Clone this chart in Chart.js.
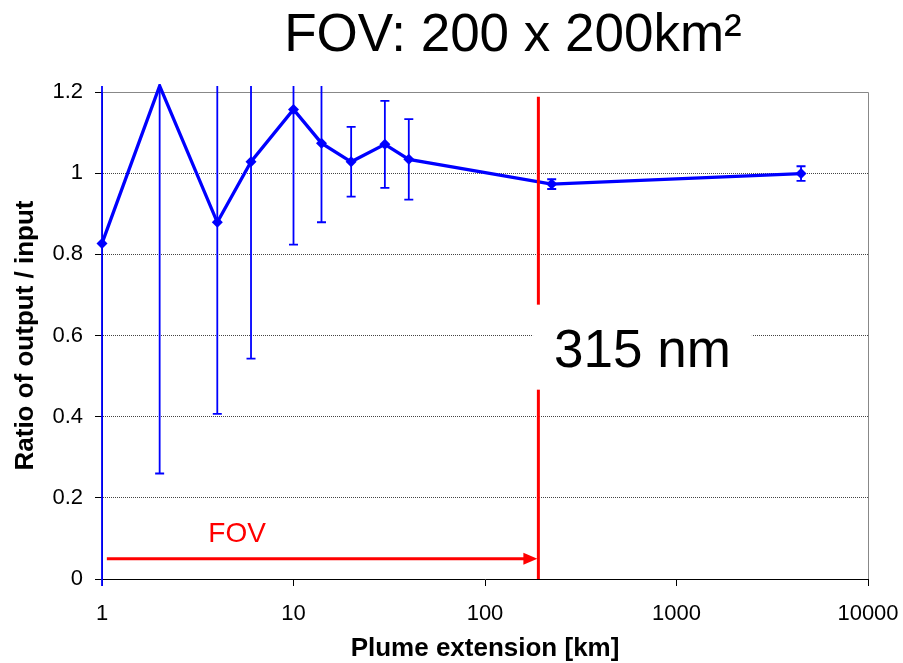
<!DOCTYPE html>
<html>
<head>
<meta charset="utf-8">
<script src="https://cdn.jsdelivr.net/npm/chart.js@4.4.1/dist/chart.umd.min.js"></script>
<style>
  html, body { margin: 0; padding: 0; background: #fff; }
  #wrap { width: 903px; height: 663px; }
</style>
</head>
<body>
<div id="wrap"><canvas id="chartPlume"></canvas></div>
<script>
const PLUME_KM = [1, 2, 4, 6, 10, 14, 20, 30, 40, 223, 4470];
const RATIO = [0.827, 1.215, 0.879, 1.028, 1.157, 1.074, 1.028, 1.071, 1.034, 0.973, 0.999];
const RATIO_ERR = [0.9, 0.955, 0.472, 0.485, 0.333, 0.195, 0.086, 0.107, 0.099, 0.012, 0.018];
const X_TICKS = [1, 10, 100, 1000, 10000];
const Y_TICKS = [0, 0.2, 0.4, 0.6, 0.8, 1, 1.2];

// FOV marker: vertical line + arrow from the origin
const FOV_KM = 190;
const FOV_LINE_TOP = 1.188;
const FOV_ARROW_START = 1.06;
const FOV_ARROW_RATIO = 0.05;

const TITLE = 'FOV: 200 x 200km²';
const WAVE_LABEL = '315 nm';
const WAVE_LABEL_KM = 664;
const WAVE_LABEL_RATIO = 0.57;

const FONT = "Arial, 'Liberation Sans', sans-serif";
const BLUE = '#0000ff';
const RED = '#ff0000';

const overlay = {
  id: 'overlay',
  beforeDatasetsDraw(chart) {
    const { ctx, chartArea, scales: { x, y } } = chart;
    ctx.save();
    // plot frame (top + right)
    ctx.strokeStyle = '#888';
    ctx.lineWidth = 1;
    ctx.beginPath();
    ctx.moveTo(chartArea.left, chartArea.top + 0.5);
    ctx.lineTo(chartArea.right + 0.5, chartArea.top + 0.5);
    ctx.lineTo(chartArea.right + 0.5, chartArea.bottom);
    ctx.stroke();

    // error bars, clipped a little outside the plot like the original
    const top = chartArea.top - 6;
    const bottom = chartArea.bottom + 7;
    ctx.strokeStyle = BLUE;
    ctx.lineWidth = 1.8;
    PLUME_KM.forEach((km, i) => {
      const px = x.getPixelForValue(km);
      const hi = y.getPixelForValue(RATIO[i] + RATIO_ERR[i]);
      const lo = y.getPixelForValue(RATIO[i] - RATIO_ERR[i]);
      ctx.beginPath();
      ctx.moveTo(px, Math.max(hi, top));
      ctx.lineTo(px, Math.min(lo, bottom));
      if (hi >= top) {
        ctx.moveTo(px - 4.5, hi);
        ctx.lineTo(px + 4.5, hi);
      }
      if (lo <= bottom) {
        ctx.moveTo(px - 4.5, lo);
        ctx.lineTo(px + 4.5, lo);
      }
      ctx.stroke();
    });
    ctx.restore();
  },
  afterDatasetsDraw(chart) {
    const { ctx, chartArea, scales: { x, y } } = chart;
    ctx.save();

    // FOV vertical line
    const fx = x.getPixelForValue(FOV_KM);
    ctx.strokeStyle = RED;
    ctx.lineWidth = 3;
    ctx.beginPath();
    ctx.moveTo(fx, y.getPixelForValue(FOV_LINE_TOP));
    ctx.lineTo(fx, chartArea.bottom);
    ctx.stroke();

    // FOV arrow
    const ay = y.getPixelForValue(FOV_ARROW_RATIO);
    const ax0 = x.getPixelForValue(FOV_ARROW_START);
    const tip = fx - 1;
    ctx.beginPath();
    ctx.moveTo(ax0, ay);
    ctx.lineTo(tip - 12, ay);
    ctx.stroke();
    ctx.fillStyle = RED;
    ctx.beginPath();
    ctx.moveTo(tip, ay);
    ctx.lineTo(tip - 14, ay - 6);
    ctx.lineTo(tip - 14, ay + 6);
    ctx.closePath();
    ctx.fill();

    ctx.font = `28px ${FONT}`;
    ctx.textAlign = 'center';
    ctx.textBaseline = 'alphabetic';
    ctx.fillText('FOV', (ax0 + tip) / 2 - 85, ay - 17);

    // wavelength label in white box
    ctx.font = `53px ${FONT}`;
    const cx = x.getPixelForValue(WAVE_LABEL_KM);
    const cy = y.getPixelForValue(WAVE_LABEL_RATIO);
    const w = ctx.measureText(WAVE_LABEL).width + 42;
    ctx.fillStyle = '#fff';
    ctx.fillRect(cx - w / 2, cy - 43, w, 85);
    ctx.fillStyle = '#000';
    ctx.fillText(WAVE_LABEL, cx, cy + 19);

    // title
    ctx.font = `53px ${FONT}`;
    ctx.fillText(TITLE, 513, 51);
    ctx.restore();
  },
};

const yGridColor = (c) => {
  if (!c.tick) return '#444';
  if (c.tick.value >= 1.2) return '#888';
  if (c.tick.value === 0) return 'rgba(0,0,0,0)';
  return '#444';
};

new Chart(document.getElementById('chartPlume').getContext('2d'), {
  type: 'line',
  data: {
    datasets: [{
      data: PLUME_KM.map((km, i) => ({ x: km, y: RATIO[i] })),
      borderColor: BLUE,
      backgroundColor: BLUE,
      borderWidth: 3.3,
      pointStyle: 'rectRot',
      pointRadius: 5.5,
      pointBorderWidth: 0,
      tension: 0,
      fill: false,
      clip: 8,
    }],
  },
  options: {
    responsive: true,
    maintainAspectRatio: false,
    animation: false,
    layout: { padding: { top: 92, right: 35, left: 0, bottom: 0 } },
    plugins: {
      legend: { display: false },
      tooltip: { enabled: false },
    },
    scales: {
      x: {
        type: 'logarithmic',
        min: 1,
        max: 10000,
        afterBuildTicks: (scale) => { scale.ticks = X_TICKS.map((v) => ({ value: v })); },
        afterFit: (scale) => {
          scale.height = 84;
          scale.paddingLeft = 0;
          scale.paddingRight = 0;
        },
        ticks: {
          color: '#000',
          font: { family: FONT, size: 22 },
          padding: 15,
          maxRotation: 0,
          callback: (value) => String(value),
        },
        grid: { drawOnChartArea: false, tickLength: 7, tickColor: '#000' },
        border: { color: '#000', width: 1 },
        title: {
          display: true,
          text: 'Plume extension [km]',
          color: '#000',
          font: { family: FONT, size: 26, weight: 'bold', lineHeight: 1 },
          padding: { top: 0, bottom: 1 },
        },
      },
      y: {
        min: 0,
        max: 1.2,
        afterBuildTicks: (scale) => { scale.ticks = Y_TICKS.map((v) => ({ value: v })); },
        afterFit: (scale) => {
          scale.width = 102;
          scale.paddingTop = 0;
          scale.paddingBottom = 0;
        },
        ticks: {
          color: '#000',
          font: { family: FONT, size: 22 },
          padding: 12,
          callback: (value) => String(Math.round(value * 10) / 10),
        },
        grid: { color: yGridColor, tickLength: 7, tickColor: '#000' },
        border: {
          color: '#000',
          width: 1,
          dash: (c) => (c.tick && c.tick.value < 1.2 ? [1, 1] : []),
        },
        title: {
          display: true,
          text: 'Ratio of output / input',
          color: '#000',
          font: { family: FONT, size: 26, weight: 'bold', lineHeight: 1 },
          padding: { top: 13, bottom: 0 },
        },
      },
    },
  },
  plugins: [overlay],
});
</script>
</body>
</html>
